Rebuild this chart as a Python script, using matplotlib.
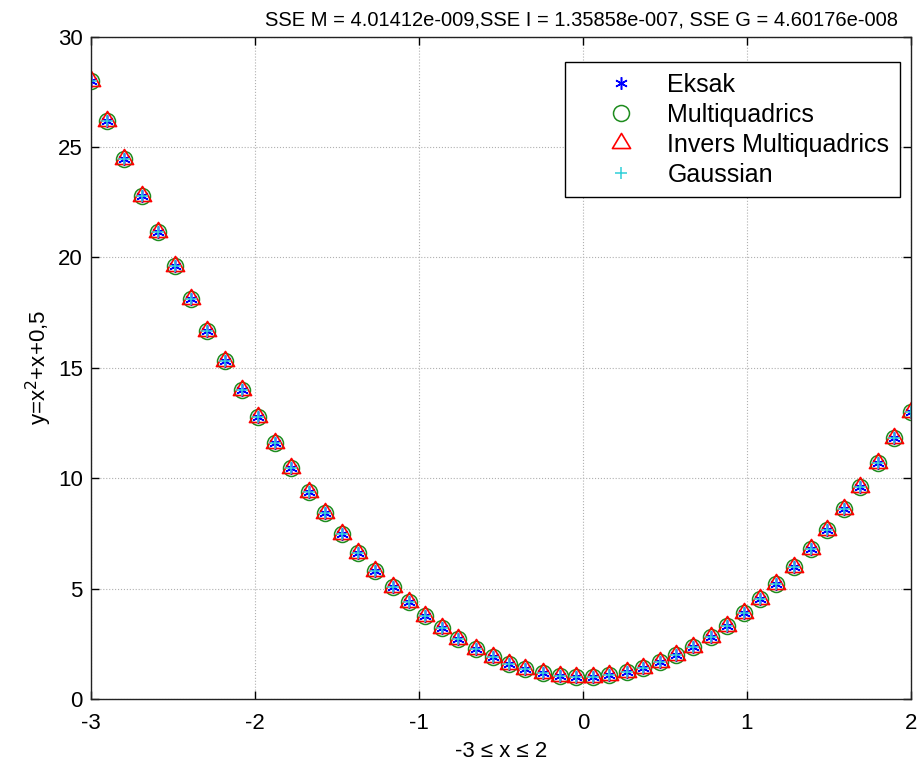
import matplotlib
matplotlib.use('Agg')
import matplotlib.pyplot as plt
from matplotlib.path import Path

plt.rcParams['font.family'] = ['Liberation Sans', 'DejaVu Sans']
plt.rcParams['axes.unicode_minus'] = False

# sample points on -3 <= x <= 2
x = [-3.00, -2.90, -2.80, -2.69, -2.59, -2.49, -2.39, -2.29, -2.18, -2.08,
     -1.98, -1.88, -1.78, -1.67, -1.57, -1.47, -1.37, -1.27, -1.16, -1.06,
     -0.96, -0.86, -0.76, -0.65, -0.55, -0.45, -0.35, -0.24, -0.14, -0.04,
     0.06, 0.16, 0.27, 0.37, 0.47, 0.57, 0.67, 0.78, 0.88, 0.98,
     1.08, 1.18, 1.29, 1.39, 1.49, 1.59, 1.69, 1.80, 1.90, 2.00]

y_eksak = [28.00, 26.19, 24.45, 22.77, 21.15, 19.60, 18.10, 16.67, 15.31, 14.00,
           12.76, 11.58, 10.46, 9.40, 8.41, 7.48, 6.61, 5.80, 5.06, 4.38,
           3.76, 3.20, 2.71, 2.28, 1.91, 1.60, 1.36, 1.18, 1.06, 1.01,
           1.01, 1.08, 1.21, 1.40, 1.66, 1.98, 2.36, 2.80, 3.31, 3.88,
           4.51, 5.20, 5.96, 6.78, 7.66, 8.60, 9.61, 10.68, 11.81, 13.00]

# approximations agree with the exact values to ~1e-8
y_mq = list(y_eksak)
y_imq = list(y_eksak)
y_gauss = list(y_eksak)

# matlab-like triangle, centred on its centroid
tri = Path([(0, 1), (-0.9, -0.5), (0.9, -0.5), (0, 1)],
           [Path.MOVETO, Path.LINETO, Path.LINETO, Path.CLOSEPOLY])

fig = plt.figure(figsize=(9.19, 7.64), dpi=100)
ax = fig.add_axes([0.099, 0.085, 0.892, 0.867])

ax.plot(x, y_eksak, linestyle='none', marker=(6, 2, 0), color='blue',
        markersize=9, markeredgewidth=1.1, label='Eksak')
ax.plot(x, y_mq, linestyle='none', marker='o', markersize=11.5, markerfacecolor='none',
        markeredgecolor='#1e8c1e', markeredgewidth=1.1, label='Multiquadrics')
ax.plot(x, y_imq, linestyle='none', marker=tri, markersize=14.5, markerfacecolor='none',
        markeredgecolor='red', markeredgewidth=1.2, label='Invers Multiquadrics')
ax.plot(x, y_gauss, linestyle='none', marker='+', color='#30d0d8',
        markersize=9, markeredgewidth=1.1, label='Gaussian')

ax.set_xlim(-3, 2)
ax.set_ylim(0, 30)
ax.set_xticks([-3, -2, -1, 0, 1, 2])
ax.set_yticks([0, 5, 10, 15, 20, 25, 30])
ax.tick_params(direction='in', top=True, right=True, length=6, labelsize=16, width=1)
ax.tick_params(axis='x', pad=10)
ax.tick_params(axis='y', pad=6)
ax.grid(True, linestyle=':', color='#b0b0b0', linewidth=0.8)
for s in ax.spines.values():
    s.set_linewidth(1)
    s.set_color('#222222')

ax.set_title('SSE M = 4.01412e-009,SSE I = 1.35858e-007, SSE G = 4.60176e-008',
             fontsize=14.5, x=0.598, y=1.0, pad=8)
ax.set_xlabel('-3 \u2264 x \u2264 2', fontsize=16, labelpad=5)
ax.set_ylabel('y=x$^2$+x+0,5', fontsize=16, labelpad=3)

leg = ax.legend(loc='upper right', bbox_to_anchor=(0.9793, 0.9188),
                bbox_transform=fig.transFigure, borderaxespad=0,
                fontsize=18, fancybox=False, edgecolor='black', framealpha=1,
                borderpad=0.42, handletextpad=0.07, labelspacing=0.24,
                handlelength=3.6)
leg.get_frame().set_linewidth(1)

plt.savefig('out.png', dpi=100)
